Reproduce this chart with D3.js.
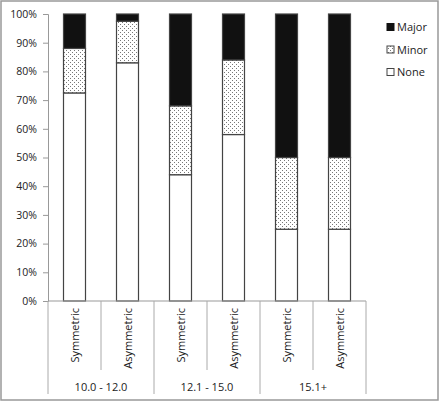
<!DOCTYPE html>
<html><head><meta charset="utf-8">
<script src="https://cdn.jsdelivr.net/npm/d3@7"></script>
<style>body{margin:0;background:#fff}svg{display:block}text{font-family:"Open Sans",sans-serif;fill:#222}</style>
</head><body><svg id="c" width="440" height="402"></svg>
<script>
const bars = ["Symmetric","Asymmetric","Symmetric","Asymmetric","Symmetric","Asymmetric"];
const groups = ["10.0 - 12.0","12.1 - 15.0","15.1+"];
const none  = [72.5, 83, 44, 58, 25, 25];
const minor = [15.5, 14.5, 24, 26, 25, 25];
const major = [12, 2.5, 32, 16, 50, 50];
const series = ["None","Minor","Major"];
const yTicks = [0,10,20,30,40,50,60,70,80,90,100];

(function(){
const svg = d3.select("#c");
const defs = svg.append("defs");
const pat = defs.append("pattern").attr("id","dots").attr("patternUnits","userSpaceOnUse").attr("width",4).attr("height",4);
pat.append("rect").attr("width",4).attr("height",4).attr("fill","#fff");
pat.append("rect").attr("x",0).attr("y",0).attr("width",1).attr("height",1).attr("fill","#777");
pat.append("rect").attr("x",2).attr("y",2).attr("width",1).attr("height",1).attr("fill","#777");

const fills = {None:"#fff", Minor:"url(#dots)", Major:"#111"};
const pl=48, pr=366, pt=14, pb=301;
const x = d3.scaleBand().domain(d3.range(bars.length)).range([pl,pr]);
const y = d3.scaleLinear().domain([0,100]).range([pb,pt]);

svg.append("rect").attr("x",1).attr("y",1).attr("width",437).attr("height",399).attr("fill","none").attr("stroke","#999").attr("stroke-width",1.5);

const data = bars.map((b,i)=>({i, None:none[i], Minor:minor[i], Major:major[i]}));
const stack = d3.stack().keys(series)(data);
const bw = 22;
stack.forEach(s=>{
  svg.append("g").selectAll("rect").data(s).join("rect")
    .attr("x",d=>x(d.data.i)+x.bandwidth()/2-bw/2)
    .attr("width",bw)
    .attr("y",d=>y(d[1]))
    .attr("height",d=>y(d[0])-y(d[1]))
    .attr("fill",fills[s.key])
    .attr("stroke","#444").attr("stroke-width",1.2);
});

const yAxis = d3.axisLeft(y).tickValues(yTicks).tickFormat(d=>d+"%").tickSize(5).tickPadding(6);
const ga = svg.append("g").attr("transform",`translate(${pl},0)`).call(yAxis);
ga.select(".domain").attr("stroke","#999");
ga.selectAll(".tick line").attr("stroke","#999");
ga.selectAll("text").attr("font-size","10.5px").attr("fill","#222").attr("font-family","Open Sans");

svg.append("line").attr("x1",pl).attr("x2",pr).attr("y1",pb).attr("y2",pb).attr("stroke","#999");
for(let k=0;k<=bars.length;k++){
  const xx = k<bars.length ? x(k) : pr;
  svg.append("line").attr("x1",xx).attr("x2",xx).attr("y1",pb).attr("y2",k%2===0?394:370).attr("stroke","#aaa");
}
bars.forEach((b,i)=>{
  const cx = x(i)+x.bandwidth()/2+4;
  svg.append("text").attr("transform",`translate(${cx},308) rotate(-90)`).attr("text-anchor","end").attr("font-size","11px").text(b);
});
groups.forEach((g,j)=>{
  const cx = (x(j*2)+ (x(j*2+1)+x.bandwidth()))/2;
  svg.append("text").attr("x",cx).attr("y",391).attr("text-anchor","middle").attr("font-size","11px").text(g);
});
const leg = ["Major","Minor","None"];
leg.forEach((k,j)=>{
  const cy = 27 + j*22.5;
  svg.append("rect").attr("x",387).attr("y",cy-3.5).attr("width",7).attr("height",7).attr("fill",fills[k]).attr("stroke",k==="Major"?"#111":"#444").attr("stroke-width",1);
  svg.append("text").attr("x",397).attr("y",cy+4).attr("font-size","11px").text(k);
});
})();
</script></body></html>
